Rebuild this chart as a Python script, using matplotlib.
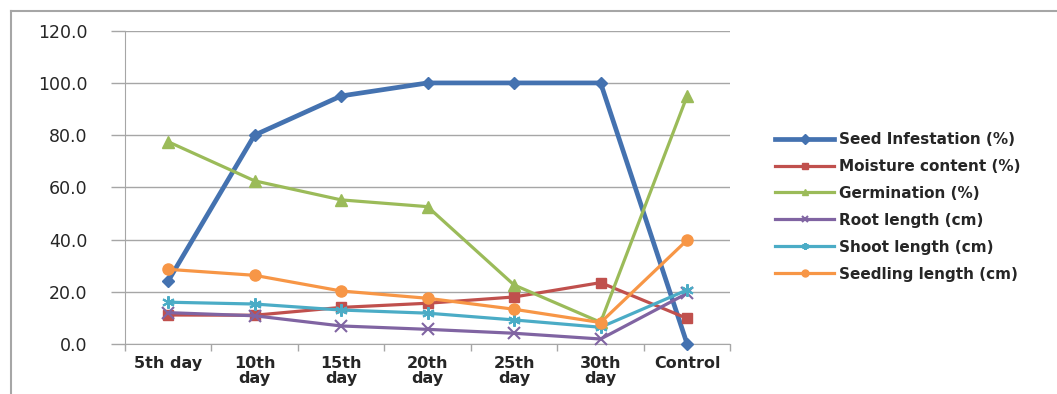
import matplotlib
matplotlib.use("Agg")
import matplotlib.pyplot as plt
from matplotlib.lines import Line2D

categories = ["5th day", "10th\nday", "15th\nday", "20th\nday", "25th\nday", "30th\nday", "Control"]
seed_infestation = [24.0, 80.0, 95.0, 100.0, 100.0, 100.0, 0.0]
moisture_content = [11.1, 11.0, 14.0, 15.6, 18.0, 23.5, 9.8]
germination = [77.5, 62.5, 55.2, 52.6, 22.6, 8.3, 95.0]
root_length = [12.0, 10.8, 6.9, 5.6, 4.1, 1.9, 19.4]
shoot_length = [16.0, 15.3, 13.0, 11.8, 9.2, 6.4, 20.7]
seedling_length = [28.6, 26.3, 20.3, 17.5, 13.3, 8.2, 39.8]
yticks = [0, 20, 40, 60, 80, 100, 120]

series = [
    ("Seed Infestation (%)", seed_infestation, "#4472B0", "D", 3.4, 6),
    ("Moisture content (%)", moisture_content, "#C0504D", "s", 2.3, 7),
    ("Germination (%)", germination, "#9BBB59", "^", 2.3, 8),
    ("Root length (cm)", root_length, "#8064A2", "x", 2.3, 8),
    ("Shoot length (cm)", shoot_length, "#4BACC6", (6, 2, 0), 2.3, 9),
    ("Seedling length (cm)", seedling_length, "#F79646", "o", 2.3, 8),
]

plt.rcParams["font.family"] = ["DejaVu Sans"]
fig = plt.figure(figsize=(10.57, 3.94), dpi=100)
ax = fig.add_axes([0.118, 0.127, 0.573, 0.795])

x = list(range(len(categories)))
handles = []
for name, vals, col, mk, lw, ms in series:
    if mk == "x" or isinstance(mk, tuple):
        ln, = ax.plot(x, vals, color=col, lw=lw, marker=mk, ms=ms, mew=1.5,
                      mec=col, mfc=col, label=name, clip_on=False, zorder=3)
    else:
        ln, = ax.plot(x, vals, color=col, lw=lw, marker=mk, ms=ms, mec=col,
                      mfc=col, label=name, clip_on=False, zorder=3)
    handles.append(ln)

ax.set_xlim(-0.5, len(categories) - 0.5)
ax.set_ylim(0, 120)
ax.set_yticks(yticks)
ax.set_yticklabels([f"{v:.1f}" for v in yticks])
ax.yaxis.grid(True, color="#A6A6A6", lw=1.0)
ax.set_axisbelow(True)

ax.set_xticks([i + 0.5 for i in range(-1, len(categories))], minor=False)
ax.set_xticklabels([""] * (len(categories) + 1))
ax.set_xticks(x, minor=True)
ax.set_xticklabels(categories, minor=True)
ax.tick_params(axis="x", which="major", length=5, color="#A6A6A6", width=1)
ax.tick_params(axis="x", which="minor", length=0, pad=9, labelsize=11.5)
ax.tick_params(axis="y", length=10, color="#A6A6A6", width=1, labelsize=12.5, pad=17)
for lbl in ax.get_xticklabels(minor=True):
    lbl.set_fontweight("bold")
    lbl.set_color("#262626")
    lbl.set_linespacing(0.95)
for lbl in ax.get_yticklabels():
    lbl.set_color("#262626")

for s in ["top", "right"]:
    ax.spines[s].set_visible(False)
ax.spines["left"].set_color("#A6A6A6")
ax.spines["bottom"].set_color("#A6A6A6")

leg = fig.legend(handles=handles, loc="upper left", bbox_to_anchor=(0.720, 0.70),
                 frameon=False, handlelength=3.9, handletextpad=0.3,
                 labelspacing=0.78, prop={"size": 11, "weight": "bold"})
for t in leg.get_texts():
    t.set_color("#262626")
for h in leg.legend_handles:
    h.set_markersize(5)

fig.add_artist(Line2D([0.0105, 0.0105], [0.0, 0.972], transform=fig.transFigure,
                      color="#A6A6A6", lw=1.5))
fig.add_artist(Line2D([0.0105, 1.0], [0.972, 0.972], transform=fig.transFigure,
                      color="#A6A6A6", lw=1.5))

fig.savefig("out.png", dpi=100)
